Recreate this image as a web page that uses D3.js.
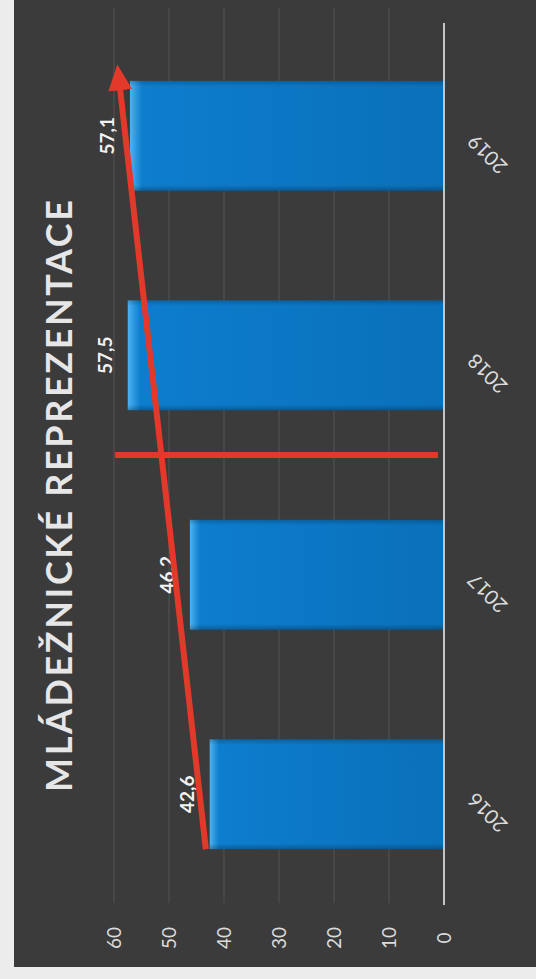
<!DOCTYPE html>
<html>
<head>
<meta charset="utf-8">
<script src="https://cdn.jsdelivr.net/npm/d3@7"></script>
<style>
  html, body { margin: 0; padding: 0; background: #ececec; }
  svg { display: block; font-family: Lato, "Open Sans", sans-serif; }
</style>
</head>
<body>
<div class="container"></div>
<script>
// chart values (slide is photographed rotated 90deg counter-clockwise)
const years = ['2016', '2017', '2018', '2019'];
const values = [42.6, 46.2, 57.5, 57.1];
const tickValues = [0, 10, 20, 30, 40, 50, 60];
const title = 'MLÁDEŽNICKÉ REPREZENTACE';

// hand drawn annotations, in data terms: [category, value, position within band]
const trendFrom = ['2016', 43.3, 1.0];
const trendTo = ['2019', 59.4, -0.15];
const dividerAt = ['2018', 1.41];
const dividerRange = [1.1, 59.8];

(function(){
  const config = {w: 536, h: 979};

  const cs = d3.formatLocale({decimal: ',', thousands: ' ', grouping: [3], currency: ['', '']});
  const fmt = cs.format('.1f');

  const svg = d3.select('.container').append('svg')
    .attr('width', config.w)
    .attr('height', config.h);

  const defs = svg.append('defs');

  const barGrad = defs.append('linearGradient')
    .attr('id', 'bar-grad')
    .attr('x1', 0).attr('x2', 1).attr('y1', 0).attr('y2', 0);
  barGrad.append('stop').attr('offset', '0%').attr('stop-color', '#4cb4f4');
  barGrad.append('stop').attr('offset', '2%').attr('stop-color', '#2c96de');
  barGrad.append('stop').attr('offset', '4%').attr('stop-color', '#0d7dcd');
  barGrad.append('stop').attr('offset', '100%').attr('stop-color', '#0a70ba');

  const edgeGrad = defs.append('linearGradient')
    .attr('id', 'edge-grad')
    .attr('x1', 0).attr('x2', 0).attr('y1', 0).attr('y2', 1);
  edgeGrad.append('stop').attr('offset', '0%').attr('stop-color', '#000').attr('stop-opacity', 0.2);
  edgeGrad.append('stop').attr('offset', '5%').attr('stop-color', '#000').attr('stop-opacity', 0);
  edgeGrad.append('stop').attr('offset', '95%').attr('stop-color', '#000').attr('stop-opacity', 0);
  edgeGrad.append('stop').attr('offset', '100%').attr('stop-color', '#000').attr('stop-opacity', 0.25);

  defs.append('marker')
    .attr('id', 'arrow')
    .attr('markerUnits', 'userSpaceOnUse')
    .attr('viewBox', '0 0 26 24')
    .attr('refX', 2).attr('refY', 12)
    .attr('markerWidth', 26).attr('markerHeight', 24)
    .attr('orient', 'auto')
    .append('path')
      .attr('d', 'M0,0 L26,12 L0,24 Z')
      .attr('fill', '#e2392a');

  // photo background: slide dark area with light paper margins
  svg.append('rect')
    .attr('width', config.w).attr('height', config.h)
    .attr('fill', '#ececec');
  svg.append('rect')
    .attr('x', 14).attr('y', 0)
    .attr('width', config.w - 14).attr('height', 967)
    .attr('fill', '#3b3b3b');

  // value axis runs right -> left, categories top -> bottom
  const x = d3.scaleLinear()
    .domain([0, 60])
    .range([444, 114]);

  const y = d3.scaleBand()
    .domain(years.slice().reverse())
    .range([26, 904])
    .paddingInner(0.5)
    .paddingOuter(0.25);

  const bandY = (cat, f) => y(cat) + f * y.bandwidth();

  // gridlines
  svg.append('g')
    .attr('class', 'grid')
    .selectAll('line')
    .data(tickValues.filter(d => d > 0))
    .enter().append('line')
      .attr('x1', d => x(d)).attr('x2', d => x(d))
      .attr('y1', 8).attr('y2', 903)
      .attr('stroke', '#555')
      .attr('stroke-width', 1);

  // tick labels
  const axis = svg.append('g')
    .attr('transform', 'translate(0,938)')
    .call(d3.axisBottom(x).tickValues(tickValues).tickSize(0));
  axis.select('.domain').remove();
  axis.selectAll('text')
    .attr('y', 0)
    .attr('dy', '0.36em')
    .attr('transform', 'rotate(-90)')
    .attr('text-anchor', 'middle')
    .attr('fill', '#dcdcdc')
    .attr('font-size', 19)
    .attr('font-family', 'Lato, "Open Sans", sans-serif');

  // bars
  const data = years.map((d, i) => ({year: d, value: values[i]}));

  const bars = svg.append('g').attr('class', 'bars');
  bars.selectAll('rect.bar')
    .data(data)
    .enter().append('rect')
      .attr('class', 'bar')
      .attr('x', d => x(d.value))
      .attr('y', d => y(d.year))
      .attr('width', d => x(0) - x(d.value))
      .attr('height', y.bandwidth())
      .attr('fill', 'url(#bar-grad)');
  bars.selectAll('rect.edge')
    .data(data)
    .enter().append('rect')
      .attr('class', 'edge')
      .attr('x', d => x(d.value))
      .attr('y', d => y(d.year))
      .attr('width', d => x(0) - x(d.value))
      .attr('height', y.bandwidth())
      .attr('fill', 'url(#edge-grad)');

  // baseline
  svg.append('line')
    .attr('x1', x(0)).attr('x2', x(0))
    .attr('y1', 23).attr('y2', 905)
    .attr('stroke', '#c4c4c4')
    .attr('stroke-width', 2);

  // category labels, slanted
  const cat = svg.append('g')
    .attr('transform', 'translate(476,0)')
    .call(d3.axisRight(y).tickSize(0));
  cat.select('.domain').remove();
  cat.selectAll('.tick')
    .attr('transform', d => `translate(0,${y(d) + y.bandwidth() / 2 - 3})`);
  cat.selectAll('text')
    .attr('x', 0).attr('y', 0).attr('dy', 0)
    .attr('text-anchor', 'end')
    .attr('transform', 'rotate(-135)')
    .attr('fill', '#dcdcdc')
    .attr('font-size', 20)
    .attr('font-family', 'Lato, "Open Sans", sans-serif');

  // value labels
  svg.append('g')
    .selectAll('text')
    .data(data)
    .enter().append('text')
      .attr('transform', d => `translate(${x(d.value) - 16},${y(d.year) + y.bandwidth() / 2}) rotate(-90)`)
      .attr('text-anchor', 'middle')
      .attr('fill', '#f2f2f2')
      .attr('font-size', 19)
      .attr('font-weight', 'bold')
      .text(d => fmt(d.value));

  // title
  svg.append('text')
    .attr('transform', 'translate(72,496) rotate(-90)')
    .attr('text-anchor', 'middle')
    .attr('fill', '#e6e6e6')
    .attr('font-size', 36)
    .attr('font-weight', 'bold')
    .attr('textLength', 592)
    .attr('lengthAdjust', 'spacing')
    .text(title);

  // red annotations
  svg.append('line')
    .attr('x1', x(dividerRange[0])).attr('x2', x(dividerRange[1]))
    .attr('y1', bandY(dividerAt[0], dividerAt[1]))
    .attr('y2', bandY(dividerAt[0], dividerAt[1]))
    .attr('stroke', '#e2392a')
    .attr('stroke-width', 6);

  const tx1 = x(trendFrom[1]), ty1 = bandY(trendFrom[0], trendFrom[2]);
  const tx2 = x(trendTo[1]), ty2 = bandY(trendTo[0], trendTo[2]);
  const len = Math.hypot(tx2 - tx1, ty2 - ty1);
  const k = (len - 24) / len;
  svg.append('line')
    .attr('x1', tx1).attr('y1', ty1)
    .attr('x2', tx1 + (tx2 - tx1) * k).attr('y2', ty1 + (ty2 - ty1) * k)
    .attr('stroke', '#e2392a')
    .attr('stroke-width', 6)
    .attr('marker-end', 'url(#arrow)');
})();
</script>
</body>
</html>
